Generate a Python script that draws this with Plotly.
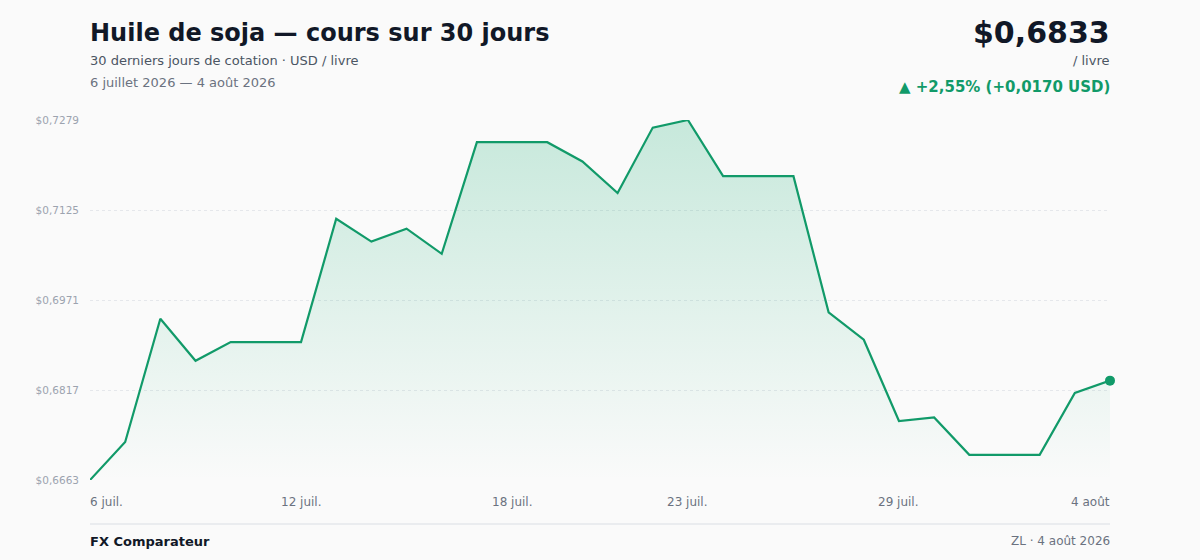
import plotly.graph_objects as go

# cours quotidiens, huile de soja (USD / livre)
dates = [
    "2026-07-06", "2026-07-07", "2026-07-08", "2026-07-09", "2026-07-10",
    "2026-07-11", "2026-07-12", "2026-07-13", "2026-07-14", "2026-07-15",
    "2026-07-16", "2026-07-17", "2026-07-18", "2026-07-19", "2026-07-20",
    "2026-07-21", "2026-07-22", "2026-07-23", "2026-07-24", "2026-07-25",
    "2026-07-26", "2026-07-27", "2026-07-28", "2026-07-29", "2026-07-30",
    "2026-07-31", "2026-08-01", "2026-08-02", "2026-08-03", "2026-08-04",
]
prices = [
    0.6663, 0.6728, 0.6939, 0.6867, 0.6899, 0.6899, 0.6899, 0.7110, 0.7071, 0.7093,
    0.7050, 0.7241, 0.7241, 0.7241, 0.7208, 0.7154, 0.7266, 0.7279, 0.7183, 0.7183,
    0.7183, 0.6950, 0.6903, 0.6764, 0.6770, 0.6706, 0.6706, 0.6706, 0.6812, 0.6833,
]

y_ticks = [0.6663, 0.6817, 0.6971, 0.7125, 0.7279]
y_tick_text = ["$0,6663", "$0,6817", "$0,6971", "$0,7125", "$0,7279"]

x_tick_dates = ["2026-07-06", "2026-07-12", "2026-07-18", "2026-07-23", "2026-07-29", "2026-08-04"]
x_tick_text = ["6 juil.", "12 juil.", "18 juil.", "23 juil.", "29 juil.", "4 août"]

GREEN = "#119a69"
FONT = "DejaVu Sans"

fig = go.Figure()
fig.add_trace(go.Scatter(
    x=dates, y=prices, mode="lines",
    line=dict(color=GREEN, width=2.2),
    fill="tozeroy",
    fillgradient=dict(type="vertical", start=y_ticks[0], stop=y_ticks[-1],
                      colorscale=[[0, "rgba(17,170,110,0.0)"], [1, "rgba(17,170,110,0.22)"]]),
    hoverinfo="skip", showlegend=False,
))
fig.add_trace(go.Scatter(
    x=[dates[-1]], y=[prices[-1]], mode="markers",
    marker=dict(color=GREEN, size=10), cliponaxis=False,
    hoverinfo="skip", showlegend=False,
))

ann = []
for i, (d, t) in enumerate(zip(x_tick_dates, x_tick_text)):
    anchor, shift = "center", 0
    if i == 0:
        anchor, shift = "left", -2
    elif i == len(x_tick_dates) - 1:
        anchor, shift = "right", 2
    ann.append(dict(x=d, y=0, xref="x", yref="paper", text=t, showarrow=False,
                    xanchor=anchor, yanchor="top", yshift=-13, xshift=shift,
                    font=dict(family=FONT, size=12, color="#6b7280")))

header = [
    dict(x=88, y=33, text="<b>Huile de soja — cours sur 30 jours</b>",
         xanchor="left", font=dict(family=FONT, size=24, color="#111827")),
    dict(x=88, y=61, text="30 derniers jours de cotation · USD / livre",
         xanchor="left", font=dict(family=FONT, size=13, color="#4b5563")),
    dict(x=88, y=83, text="6 juillet 2026 — 4 août 2026",
         xanchor="left", font=dict(family=FONT, size=13, color="#6b7280")),
    dict(x=1112, y=32, text="<b>$0,6833</b>",
         xanchor="right", font=dict(family=FONT, size=30, color="#111827")),
    dict(x=1112, y=61, text="/ livre",
         xanchor="right", font=dict(family=FONT, size=13, color="#4b5563")),
    dict(x=1112, y=87, text="<b>▲ +2,55% (+0,0170 USD)</b>",
         xanchor="right", font=dict(family=FONT, size=15, color=GREEN)),
    dict(x=88, y=541, text="<b>FX Comparateur</b>",
         xanchor="left", font=dict(family=FONT, size=13, color="#111827")),
    dict(x=1112, y=541, text="ZL · 4 août 2026",
         xanchor="right", font=dict(family=FONT, size=12, color="#6b7280")),
]
# header/footer positioned from pixel coords (top-left origin) into paper coords
W, H = 1200, 560
L, R, T, B = 90, 90, 120, 80
pw, ph = W - L - R, H - T - B
for a in header:
    a.update(xref="paper", yref="paper", showarrow=False, yanchor="middle",
             x=(a["x"] - L) / pw, y=(H - B - a["y"]) / ph)
ann += header

fig.update_layout(
    width=W, height=H,
    margin=dict(l=L, r=R, t=T, b=B),
    paper_bgcolor="#fafafa", plot_bgcolor="#fafafa",
    font=dict(family=FONT),
    annotations=ann,
    shapes=[dict(type="line", xref="paper", yref="paper", x0=0, x1=1,
                 y0=(H - B - 524) / ph, y1=(H - B - 524) / ph,
                 line=dict(color="#e5e7eb", width=1.5))],
    xaxis=dict(range=[dates[0], dates[-1]], showgrid=False, zeroline=False,
               showticklabels=False, showline=False, fixedrange=True),
    yaxis=dict(range=[y_ticks[0], y_ticks[-1]], tickvals=y_ticks, ticktext=y_tick_text,
               showgrid=True, gridcolor="#e5e7eb", griddash="dot", gridwidth=1,
               zeroline=False, showline=False, ticks="", ticklabelstandoff=10,
               tickfont=dict(family=FONT, size=10.5, color="#9ca3af"), fixedrange=True),
)

fig.write_html("out.html", config={"displayModeBar": False},
               post_script="document.body.style.margin='0';")
